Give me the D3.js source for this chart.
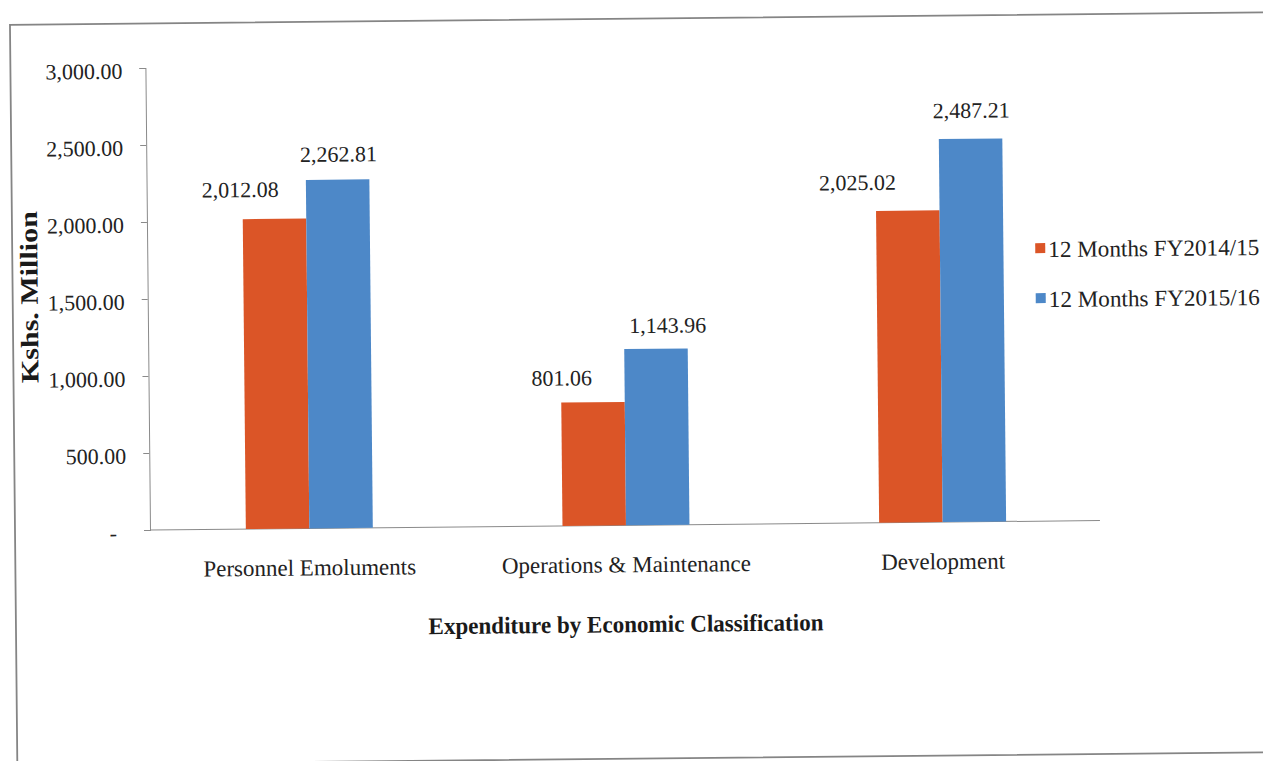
<!DOCTYPE html>
<html>
<head>
<meta charset="utf-8">
<script src="https://d3js.org/d3.v7.min.js"></script>
<style>
  html, body { margin: 0; padding: 0; background: #fff; }
  svg { display: block; }
</style>
</head>
<body>
<svg id="chart" width="1263" height="761"></svg>
<script>
// ---- data ----
const categories = ["Personnel Emoluments", "Operations & Maintenance", "Development"];
const seriesNames = ["12 Months FY2014/15", "12 Months FY2015/16"];
const fy2014_15 = [2012.08, 801.06, 2025.02];
const fy2015_16 = [2262.81, 1143.96, 2487.21];
const yTickValues = [0, 500, 1000, 1500, 2000, 2500, 3000];
const xAxisTitle = "Expenditure by Economic Classification";
const yAxisTitle = "Kshs. Million";

// ---- layout / style ----
const FONT = "'Liberation Serif', 'Times New Roman', serif";
const colors = ["#DB5527", "#4D88C8"];
const labelDx = [[-34, -31, -50], [1, 12, 1]];
const labelDy = [[-22, -17, -21], [-18, -16, -21]];
const seriesValues = [fy2014_15, fy2015_16];

const svg = d3.select("#chart");
const root = svg.append("g").attr("transform", "rotate(-0.57,150,530)");

// outer frame
root.append("rect")
  .attr("x", 15).attr("y", 23.5).attr("width", 1300).attr("height", 740)
  .attr("fill", "none").attr("stroke", "#858585").attr("stroke-width", 1.8);

const x0 = d3.scaleBand().domain(categories).range([151, 1101])
  .paddingInner(0.599).paddingOuter(0.2995);
const x1 = d3.scaleBand().domain(seriesNames).range([0, x0.bandwidth()]).padding(0);
const y = d3.scaleLinear().domain([0, 3000]).range([530, 68]);

// y axis
const fmt = d3.format(",.2f");
const yAxis = d3.axisLeft(y).tickValues(yTickValues).tickSize(6).tickPadding(17)
  .tickFormat(d => d === 0 ? "-" : fmt(d));
const gy = root.append("g").attr("transform", "translate(150,0)").call(yAxis);
gy.select(".domain").attr("stroke", "#8a8a8a");
gy.selectAll(".tick line").attr("stroke", "#8a8a8a");
gy.selectAll(".tick text")
  .style("font-family", FONT).style("font-size", "22px").style("fill", "#222")
  .attr("dy", "0.45em")
  .attr("dx", d => d === 0 ? -10 : 0);

// x baseline
root.append("line")
  .attr("x1", 150).attr("x2", 1100).attr("y1", y(0)).attr("y2", y(0))
  .attr("stroke", "#8a8a8a").attr("stroke-width", 1);

// bars
const groups = root.append("g").selectAll("g").data(categories).join("g")
  .attr("transform", d => `translate(${x0(d)},0)`);

const cells = (c, ci) => seriesNames.map((s, si) => ({ s, si, ci, v: seriesValues[si][ci] }));

groups.selectAll("rect").data(cells).join("rect")
  .attr("x", d => x1(d.s))
  .attr("y", d => y(d.v))
  .attr("width", x1.bandwidth())
  .attr("height", d => y(0) - y(d.v))
  .attr("fill", d => colors[d.si]);

// data labels
groups.selectAll("text.val").data(cells).join("text")
  .attr("class", "val")
  .attr("x", d => x1(d.s) + x1.bandwidth() / 2 + labelDx[d.si][d.ci])
  .attr("y", d => y(d.v) + labelDy[d.si][d.ci])
  .attr("text-anchor", "middle")
  .style("font-family", FONT).style("font-size", "22px").style("fill", "#222")
  .text(d => fmt(d.v));

// category labels
root.append("g").selectAll("text").data(categories).join("text")
  .attr("x", d => x0(d) + x0.bandwidth() / 2)
  .attr("y", 577)
  .attr("text-anchor", "middle")
  .style("font-family", FONT).style("font-size", "23px").style("fill", "#222")
  .text(d => d);

// axis titles
root.append("text")
  .attr("x", 625).attr("y", 637)
  .attr("text-anchor", "middle")
  .style("font-family", FONT).style("font-size", "24px").style("font-weight", "bold").style("fill", "#1a1a1a")
  .attr("textLength", 395).attr("lengthAdjust", "spacingAndGlyphs")
  .text(xAxisTitle);

root.append("text")
  .attr("transform", "translate(40,296) rotate(-90)")
  .attr("text-anchor", "middle")
  .style("font-family", FONT).style("font-size", "25px").style("font-weight", "bold").style("fill", "#1a1a1a")
  .attr("textLength", 172).attr("lengthAdjust", "spacingAndGlyphs")
  .text(yAxisTitle);

// legend
const legend = root.append("g").selectAll("g").data(seriesNames).join("g")
  .attr("transform", (d, i) => `translate(1038,${252 + i * 50})`);
legend.append("rect").attr("width", 10).attr("height", 10)
  .attr("fill", (d, i) => colors[i]);
legend.append("text").attr("x", 13).attr("y", 14)
  .style("font-family", FONT).style("font-size", "23px").style("fill", "#222")
  .attr("textLength", 211).attr("lengthAdjust", "spacingAndGlyphs")
  .text(d => d);
</script>
</body>
</html>
